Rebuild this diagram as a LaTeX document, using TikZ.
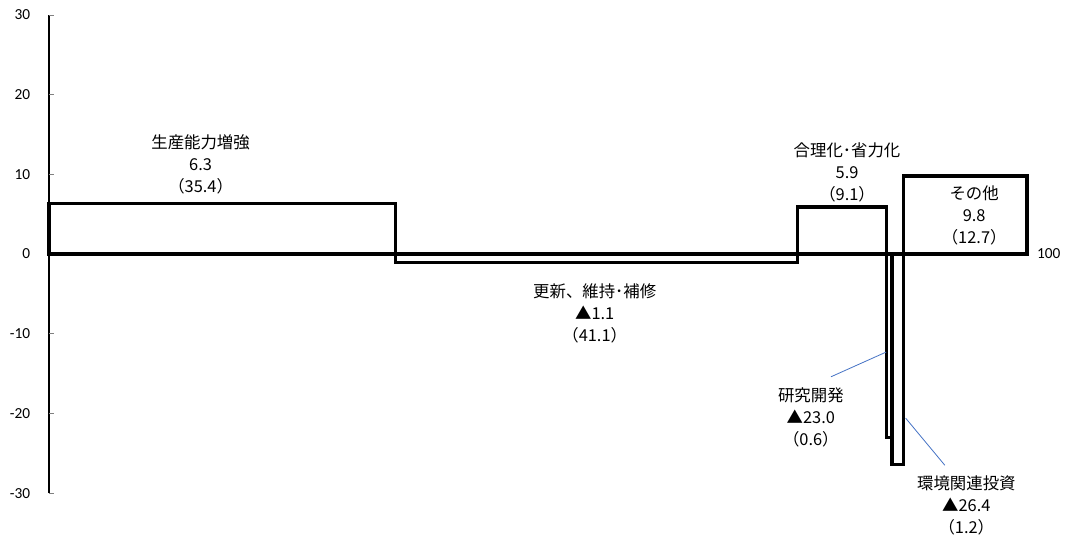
\documentclass[tikz,border=0pt]{standalone}
\usepackage{fontspec}
\setmainfont{Carlito}
\newfontfamily\jpfont{Noto Sans CJK JP}
\usetikzlibrary{positioning}
\definecolor{leaderblue}{HTML}{4472C4}
\tikzstyle{bar} = [draw=black, line width=2.4pt]
\tikzstyle{catlabel} = [align=center, inner sep=0pt, font=\jpfont\fontsize{12.3}{16.5}\selectfont]
\tikzstyle{ticklab} = [anchor=east, inner sep=0pt, font=\fontsize{11.5}{13}\selectfont]
\tikzstyle{leader} = [draw=leaderblue, line width=0.6pt]

\begin{document}
\begin{tikzpicture}[x=7.335pt, y=5.978pt]
\useasboundingbox (-5.01,-35.88) rectangle (104.40,31.87);

% axis
\draw [line width=0.8pt] (0,-30) -- (0,30);
\foreach \v in {-30,-20,...,30} {
  \draw [gray, line width=0.6pt] (0,\v) -- (0.5,\v);
  \node [ticklab] at (-1.9,\v) {\v};
}

% bars: width = share, height = change
\draw [bar] (0,0) rectangle (35.4,6.3);
\draw [bar] (35.4,0) rectangle (76.5,-1.1);
\draw [bar] (76.5,0) rectangle (85.6,5.9);
\draw [bar] (85.6,0) rectangle (86.2,-23.0);
\draw [bar] (86.2,0) rectangle (87.4,-26.4);
\draw [bar] (87.4,0) rectangle (100,9.8);
\draw [bar] (0,0) -- (100,0);
\node (end) [anchor=west, inner sep=0pt, font=\fontsize{11.5}{13}\selectfont] at (101.0,0) {100};

% labels
\node (cap) [catlabel] at (15.5,11.2) {生産能力増強\\6.3\\（35.4）};
\node (upd) [catlabel] at (55.8,-7.4) {更新、維持･補修\\▲1.1\\（41.1）};
\node (rat) [catlabel] at (81.6,10.3) {合理化･省力化\\5.9\\（9.1）};
\node (oth) [catlabel] at (94.6,4.9) {その他\\9.8\\（12.7）};
\node (rnd) [catlabel] at (77.9,-20.45) {研究開発\\▲23.0\\（0.6）};
\node (env) [catlabel] at (93.8,-31.6) {環境関連投資\\▲26.4\\（1.2）};

% leaders
\coordinate (rndbar) at (85.6,-12.3);
\coordinate (rndend) at (79.96,-15.4);
\coordinate (envbar) at (87.6,-20.6);
\coordinate (envend) at (91.6,-26.5);
\draw [leader] (rndbar) -- (rndend);
\draw [leader] (envbar) -- (envend);

\end{tikzpicture}
\end{document}
